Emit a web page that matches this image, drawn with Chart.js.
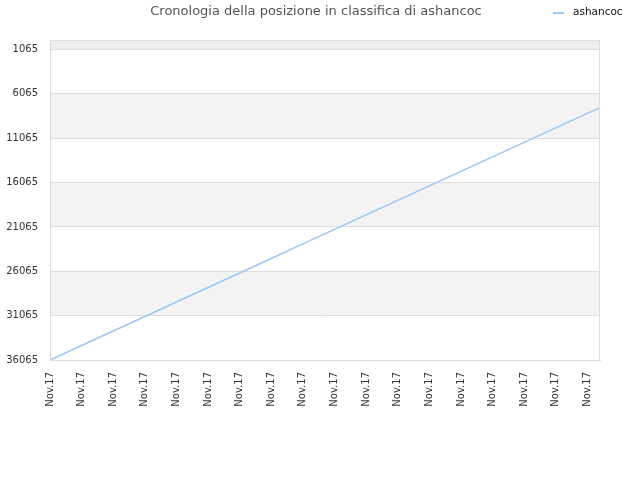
<!DOCTYPE html>
<html><head><meta charset="utf-8">
<script src="https://cdn.jsdelivr.net/npm/chart.js@4/dist/chart.umd.min.js"></script>
<style>html,body{margin:0;padding:0;background:#fff}#wrap{width:640px;height:480px}</style>
</head><body><div id="wrap"><canvas id="c" width="640" height="480"></canvas></div>
<script>
const titleText = "Cronologia della posizione in classifica di ashancoc";
const seriesName = "ashancoc";
const xLabel = "Nov.17";
const xIndex = [0,5,10,15,20,25,30,35,40,45,50,55,60,65,70,75,80,85,87];
const ranks = [36065,34430,32795,31160,29525,27890,26255,24620,22985,21350,19715,18080,16445,14810,13175,11540,9905,8270,7620];
const xTickIndex = [0,5,10,15,20,25,30,35,40,45,50,55,60,65,70,75,80,85];
const yTicks = [1065,6065,11065,16065,21065,26065,31065,36065];
const FONT = "'DejaVu Sans', sans-serif";

const bandPlugin = {
  id:'bands',
  beforeDraw(chart){
    const {ctx, chartArea:a, scales:{y}} = chart;
    ctx.save();
    const yTop = y.getPixelForValue(y.min), y0 = y.getPixelForValue(yTicks[0]);
    ctx.fillStyle = '#eeeeee';
    ctx.fillRect(a.left, yTop, a.right-a.left, y0-yTop);
    for(let i=0;i<yTicks.length-1;i++){
      if(i%2===1){
        const p1=y.getPixelForValue(yTicks[i]), p2=y.getPixelForValue(yTicks[i+1]);
        ctx.fillStyle='#f3f3f3';
        ctx.fillRect(a.left,p1,a.right-a.left,p2-p1);
      }
    }
    ctx.restore();
  },
  afterDraw(chart){
    const {ctx, chartArea:a} = chart;
    ctx.save();
    ctx.strokeStyle='#dddddd'; ctx.lineWidth=1;
    ctx.strokeRect(a.left+0.5,a.top+0.5,a.right-a.left-1,a.bottom-a.top);
    ctx.fillStyle='#555555';
    ctx.font = "13px "+FONT;
    ctx.textAlign='center'; ctx.textBaseline='middle';
    ctx.fillText(titleText, 316, 12);
    ctx.strokeStyle='#9ac7f5'; ctx.lineWidth=2;
    ctx.beginPath(); ctx.moveTo(553,13); ctx.lineTo(564,13); ctx.stroke();
    ctx.fillStyle='#111111'; ctx.font="10.5px "+FONT; ctx.textAlign='left';
    ctx.fillText(seriesName, 573, 12);
    ctx.restore();
  }
};

new Chart(document.getElementById('c'), {
  type:'line',
  data:{datasets:[{label:seriesName, data:xIndex.map((x,i)=>({x, y:ranks[i]})),
    borderColor:'#9ac7f5', borderWidth:1.5, pointRadius:0, fill:false, tension:0}]},
  options:{
    responsive:false, animation:false, devicePixelRatio:1,
    layout:{padding:{left:0,right:40,top:40,bottom:0}},
    plugins:{legend:{display:false}, title:{display:false}, tooltip:{enabled:false}},
    scales:{
      x:{type:'linear', min:0, max:87,
        grid:{display:false, drawTicks:false}, border:{color:'#dddddd'},
        afterFit(s){s.height=120;},
        afterBuildTicks(s){ s.ticks = xTickIndex.map(v=>({value:v})); },
        ticks:{autoSkip:false, maxRotation:90, minRotation:90, padding:12, color:'#333333',
          font:{family:FONT, size:10}, callback:()=>xLabel}},
      y:{type:'linear', reverse:true, min:0, max:36065,
        afterFit(s){s.width=50;},
        afterBuildTicks(s){ s.ticks = yTicks.map(v=>({value:v})); },
        grid:{color:'#dddddd', drawTicks:false}, border:{color:'#dddddd'},
        ticks:{padding:12, color:'#333333', font:{family:FONT, size:10}, callback:v=>String(v)}}
    }
  },
  plugins:[bandPlugin]
});
</script></body></html>
